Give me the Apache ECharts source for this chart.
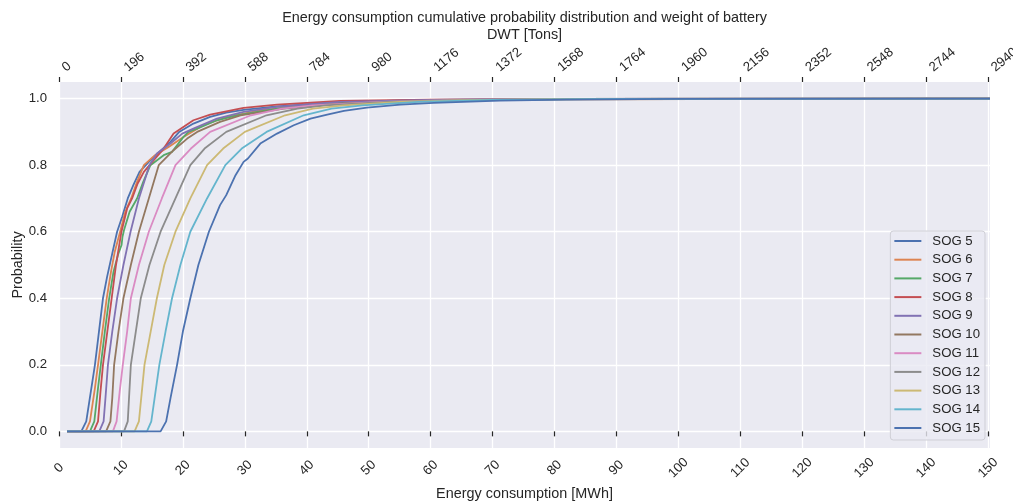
<!DOCTYPE html>
<html>
<head>
<meta charset="utf-8">
<script src="https://cdn.jsdelivr.net/npm/echarts@6/dist/echarts.min.js"></script>
<style>
  html, body { margin: 0; padding: 0; background: #ffffff; }
  #chart { width: 1013px; height: 503px; }
</style>
</head>
<body>
<div id="chart"></div>
<script>
// Cumulative probability of energy consumption per voyage, one curve per SOG (knots).
// Each point: [energy consumption in MWh, cumulative probability]
const sog5 = [[1.3,0],[3.6,0],[4.4,0.03],[5.35,0.145],[5.8,0.2],[6.16,0.255],[7.1,0.4],[7.77,0.465],[8.6,0.535],[9.38,0.6],[10.2,0.645],[11.1,0.7],[12.0,0.74],[13.0,0.78],[14.5,0.81],[16.5,0.845],[18.0,0.87],[19.4,0.9],[21.7,0.925],[24.4,0.945],[27.0,0.958],[29.8,0.966],[35.2,0.977],[45.4,0.99],[60,0.996],[85,0.999],[150.3,1]];
const sog6 = [[1.3,0],[4.3,0],[5.0,0.03],[5.8,0.13],[6.3,0.2],[7.0,0.3],[7.7,0.4],[8.4,0.48],[9.0,0.54],[9.87,0.6],[10.7,0.66],[11.64,0.7],[12.6,0.75],[13.7,0.8],[15.5,0.83],[17.7,0.855],[20.1,0.885],[23.3,0.92],[27.1,0.945],[32.5,0.965],[40.6,0.982],[55,0.994],[75,0.998],[150.3,1]];
const sog7 = [[1.3,0],[5.0,0],[5.7,0.03],[6.3,0.13],[6.75,0.2],[7.4,0.3],[8.1,0.4],[8.8,0.48],[9.6,0.535],[10.1,0.56],[10.25,0.585],[10.5,0.605],[11.4,0.66],[12.6,0.7],[13.6,0.75],[14.76,0.8],[16.9,0.83],[18.25,0.84],[20.1,0.885],[20.9,0.9],[22.3,0.91],[25.5,0.935],[28.7,0.95],[35.2,0.97],[45.4,0.987],[60,0.995],[80,0.999],[150.3,1]];
const sog8 = [[1.3,0],[5.6,0],[6.3,0.03],[6.7,0.12],[7.1,0.2],[7.8,0.3],[8.5,0.4],[9.2,0.5],[10.08,0.6],[11.0,0.67],[11.8,0.7],[12.7,0.745],[13.7,0.78],[15.3,0.815],[16.9,0.85],[18.5,0.895],[21.7,0.935],[24.4,0.952],[29.8,0.972],[35.2,0.982],[45.4,0.993],[60,0.997],[80,0.999],[150.3,1]];
const sog9 = [[1.3,0],[6.5,0],[7.2,0.03],[7.5,0.1],[7.9,0.2],[8.6,0.3],[9.38,0.4],[10.4,0.5],[11.55,0.6],[12.9,0.7],[14.6,0.8],[15.8,0.835],[18.0,0.865],[19.9,0.895],[21.7,0.91],[25.5,0.94],[29.8,0.96],[35.2,0.975],[45.4,0.99],[60,0.996],[80,0.999],[150.3,1]];
const sog10 = [[1.3,0],[7.6,0],[8.3,0.03],[8.6,0.1],[8.9,0.2],[9.6,0.3],[10.4,0.4],[11.6,0.5],[12.9,0.6],[14.5,0.7],[16.1,0.8],[18.5,0.845],[20.7,0.88],[22.3,0.9],[26.0,0.93],[29.3,0.95],[36.3,0.97],[45.4,0.985],[60,0.994],[80,0.998],[150.3,1]];
const sog11 = [[1.3,0],[8.7,0],[9.3,0.03],[9.8,0.12],[10.3,0.2],[11.0,0.3],[11.6,0.4],[12.9,0.5],[14.5,0.6],[16.6,0.7],[18.8,0.8],[21.3,0.85],[24.4,0.9],[31.0,0.95],[36.0,0.97],[41.0,0.98],[52.0,0.99],[65,0.996],[85,0.999],[150.3,1]];
const sog12 = [[1.3,0],[10.5,0],[11.1,0.03],[11.6,0.2],[12.4,0.3],[13.2,0.4],[14.6,0.5],[16.4,0.6],[18.8,0.7],[21.2,0.8],[23.5,0.85],[27.0,0.9],[33.5,0.95],[38.5,0.97],[43.0,0.98],[53.0,0.99],[66,0.996],[85,0.999],[150.3,1]];
const sog13 = [[1.3,0],[12.2,0],[12.9,0.03],[13.8,0.2],[14.8,0.3],[15.8,0.4],[17.0,0.5],[18.8,0.6],[21.2,0.7],[23.9,0.8],[26.5,0.85],[30.0,0.9],[36.5,0.95],[41.0,0.97],[46.0,0.98],[55.0,0.99],[68,0.996],[88,0.999],[150.3,1]];
const sog14 = [[1.3,0],[14.2,0],[14.9,0.03],[16.2,0.2],[17.2,0.3],[18.25,0.4],[19.6,0.5],[21.2,0.6],[23.9,0.7],[26.85,0.8],[29.5,0.85],[33.5,0.9],[39.5,0.95],[44.0,0.97],[49.0,0.98],[58.0,0.99],[70,0.996],[90,0.999],[150.3,1]];
const sog15 = [[1.3,0],[16.4,0],[17.3,0.03],[18.0,0.1],[19.06,0.2],[20.0,0.3],[21.2,0.4],[22.5,0.5],[24.2,0.6],[26.0,0.68],[27.0,0.71],[28.5,0.77],[29.8,0.81],[30.5,0.82],[32.5,0.865],[35.2,0.895],[37.9,0.92],[40.6,0.94],[43.3,0.952],[46,0.963],[49.7,0.973],[55.1,0.982],[60.5,0.987],[71.2,0.994],[81.9,0.997],[100,0.999],[150.3,1]];

const seriesNames = ['SOG 5','SOG 6','SOG 7','SOG 8','SOG 9','SOG 10','SOG 11','SOG 12','SOG 13','SOG 14','SOG 15'];
const seriesData = [sog5, sog6, sog7, sog8, sog9, sog10, sog11, sog12, sog13, sog14, sog15];

// Axis ticks
const energyTicks = [0,10,20,30,40,50,60,70,80,90,100,110,120,130,140,150];
const dwtTicks = [0,196,392,588,784,980,1176,1372,1568,1764,1960,2156,2352,2548,2744,2940];
const probTicks = [0,0.2,0.4,0.6,0.8,1.0];

const DWT_PER_MWH = 19.6;   // battery weight in tons per MWh of capacity
const ENERGY_MAX = 150.3;

const palette = ['#4C72B0','#DD8452','#55A868','#C44E52','#8172B3','#937860','#DA8BC3','#8C8C8C','#CCB974','#64B5CD','#4C72B0'];
const ink = '#262626';
const font = 'Liberation Sans, Arial, Helvetica, sans-serif';
const tickFont = 13.2;
const labelFont = 14.4;

const chart = echarts.init(document.getElementById('chart'), null, { renderer: 'canvas' });

chart.setOption({
  animation: false,
  color: palette,
  textStyle: { fontFamily: font, color: ink },
  title: {
    text: 'Energy consumption cumulative probability distribution and weight of battery',
    left: 524.5,
    textAlign: 'center',
    top: 11,
    padding: 0,
    textStyle: { fontFamily: font, fontSize: labelFont, fontWeight: 'normal', color: ink }
  },
  grid: {
    left: 59, right: 23, top: 82, bottom: 55,
    show: true,
    backgroundColor: '#EAEAF2',
    borderWidth: 0,
    containLabel: false,
    outerBoundsMode: 'none'
  },
  legend: {
    data: seriesNames,
    orient: 'vertical',
    right: 28,
    top: 231,
    icon: 'rect',
    itemWidth: 27,
    itemHeight: 2,
    itemGap: 4.7,
    padding: [3, 5, 5, 4],
    backgroundColor: 'rgba(234,234,242,0.8)',
    borderColor: '#cfcfd6',
    borderWidth: 1,
    borderRadius: 3,
    textStyle: { fontFamily: font, fontSize: tickFont, color: ink, lineHeight: 14, padding: [0, 0, 0, 6] }
  },
  xAxis: [
    {
      type: 'value',
      position: 'bottom',
      min: 0,
      max: ENERGY_MAX,
      name: 'Energy consumption [MWh]',
      nameLocation: 'middle',
      nameGap: 36,
      nameTextStyle: { fontFamily: font, fontSize: labelFont, color: ink },
      axisLine: { show: false },
      axisTick: { show: true, length: 5, customValues: energyTicks, lineStyle: { color: ink, width: 1.2 } },
      axisLabel: {
        customValues: energyTicks,
        formatter: v => String(v),
        rotate: 45,
        align: 'center',
        verticalAlign: 'middle',
        margin: 20,
        fontFamily: font, fontSize: tickFont, color: ink
      },
      splitLine: { show: true, lineStyle: { color: '#ffffff', width: 1.3 } }
    },
    {
      type: 'value',
      position: 'top',
      min: 0,
      max: ENERGY_MAX * DWT_PER_MWH,
      name: 'DWT [Tons]',
      nameLocation: 'middle',
      nameGap: 40,
      nameMoveOverlap: false,
      nameTextStyle: { fontFamily: font, fontSize: labelFont, color: ink },
      axisLine: { show: false },
      axisTick: { show: true, length: 5, customValues: dwtTicks, lineStyle: { color: ink, width: 1.2 } },
      axisLabel: {
        customValues: dwtTicks,
        formatter: v => String(v),
        rotate: -40,
        align: 'left',
        verticalAlign: 'bottom',
        padding: [0, 0, 0, 12],
        margin: 0,
        fontFamily: font, fontSize: tickFont, color: ink
      },
      splitLine: { show: false }
    }
  ],
  yAxis: {
    type: 'value',
    min: -0.05,
    max: 1.05,
    name: 'Probability',
    nameLocation: 'middle',
    nameGap: 34,
    nameMoveOverlap: false,
    nameTextStyle: { fontFamily: font, fontSize: labelFont, color: ink },
    axisLine: { show: false },
    axisTick: { show: false, customValues: probTicks },
    axisLabel: {
      customValues: probTicks,
      margin: 12,
      formatter: v => v.toFixed(1),
      fontFamily: font, fontSize: tickFont, color: ink
    },
    splitLine: { show: true, lineStyle: { color: '#ffffff', width: 1.3 } }
  },
  series: seriesNames.map((name, i) => ({
    name: name,
    type: 'line',
    xAxisIndex: 0,
    yAxisIndex: 0,
    data: seriesData[i],
    symbol: 'none',
    showSymbol: false,
    smooth: false,
    lineStyle: { width: 1.8, color: palette[i] },
    itemStyle: { color: palette[i] },
    emphasis: { disabled: true },
    z: 2 + i * 0.01
  }))
});
</script>
</body>
</html>
